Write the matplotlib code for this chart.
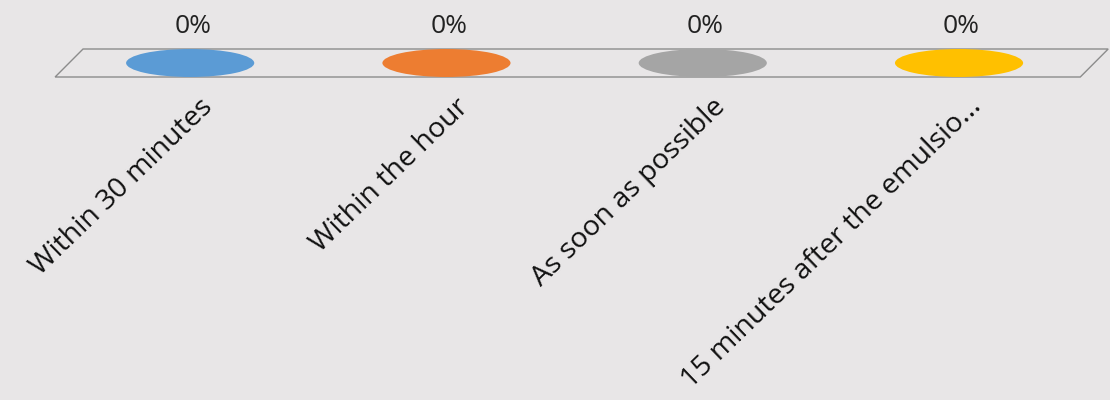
import matplotlib

matplotlib.use("Agg")
import matplotlib.pyplot as plt
from matplotlib.patches import Ellipse, Polygon

categories = ["Within 30 minutes", "Within the hour", "As soon as possible",
              "15 minutes after the emulsio..."]
values = [0, 0, 0, 0]
value_labels = ["0%", "0%", "0%", "0%"]
colors = ["#5B9BD5", "#ED7D31", "#A5A5A5", "#FFC000"]

bg = "#E8E6E7"
plt.rcParams["font.family"] = ["Open Sans", "DejaVu Sans"]

fig = plt.figure(figsize=(11.1, 4.0), dpi=100, facecolor=bg)
ax = fig.add_axes([0, 0, 1, 1])
ax.set_facecolor(bg)
# x: one unit per category (256 px), y: pixel units with value 0 at the floor
ax.set_xlim(-0.742, 3.589)
ax.set_ylim(-337, 63)
ax.axis("off")

# floor of the 3-D chart
floor = Polygon([(-0.527, -14), (3.473, -14), (3.582, 14), (-0.418, 14)],
                closed=True, facecolor="none", edgecolor="#8C8C8C", lw=1.0)
ax.add_patch(floor)

for i, (v, lab, c) in enumerate(zip(values, value_labels, colors)):
    ax.add_patch(Ellipse((i, v), 0.5, 28, facecolor=c, edgecolor="none"))
    ax.text(i + 0.01, v + 24, lab, ha="center", va="bottom", fontsize=19, color="#222222")

for i, name in enumerate(categories):
    ax.text(i + 0.035, -30, name, rotation=44, rotation_mode="anchor",
            ha="right", va="top", fontsize=20.5, color="#111111")

fig.savefig("out.png", dpi=100, facecolor=bg)
